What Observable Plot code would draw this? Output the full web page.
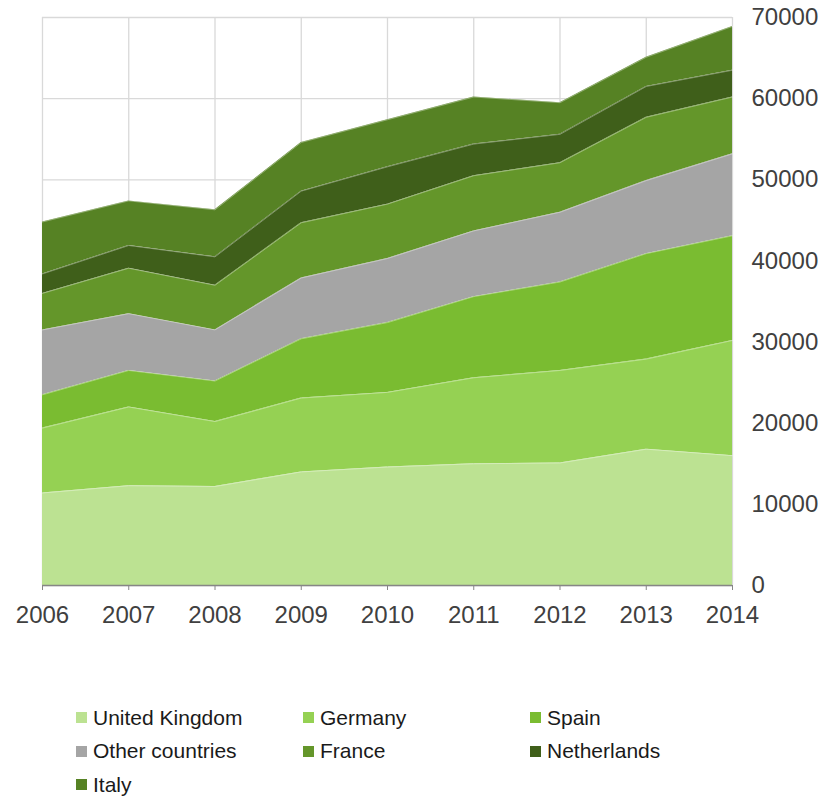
<!DOCTYPE html>
<html>
<head>
<meta charset="utf-8">
<script src="https://cdn.jsdelivr.net/npm/d3@7"></script>
<script src="https://cdn.jsdelivr.net/npm/@observablehq/plot@0.6"></script>
<style>
  body { margin: 0; background: #fff; font-family: "Liberation Sans", Arial, sans-serif; }
  #chart { width: 834px; }
  #legend {
    display: grid;
    grid-template-columns: 227px 227px 227px;
    grid-auto-rows: 33.5px;
    padding-left: 76px;
    margin-top: 61px;
    font-size: 21px;
    color: #1a1a1a;
  }
  .item { display: flex; align-items: center; }
  .sw { width: 11px; height: 11px; margin-right: 6px; flex: none; }
</style>
</head>
<body>
<div id="chart"></div>
<div id="legend"></div>
<script>
const years = [2006, 2007, 2008, 2009, 2010, 2011, 2012, 2013, 2014];
const countries = ["United Kingdom", "Germany", "Spain", "Other countries", "France", "Netherlands", "Italy"];
const colors = ["#bce292", "#95d153", "#7abc31", "#a5a5a5", "#64962a", "#3f5f1a", "#568224"];

const unitedKingdom  = [11400, 12300, 12200, 14000, 14600, 15000, 15100, 16800, 16000];
const germany        = [8000, 9700, 8000, 9100, 9200, 10600, 11400, 11100, 14200];
const spain          = [4100, 4500, 5000, 7300, 8600, 10000, 10900, 13000, 12900];
const otherCountries = [8000, 7000, 6300, 7500, 7900, 8100, 8600, 9000, 10100];
const france         = [4500, 5600, 5500, 6800, 6700, 6800, 6100, 7800, 7000];
const netherlands    = [2400, 2800, 3500, 3900, 4600, 3900, 3500, 3800, 3300];
const italy          = [6400, 5500, 5800, 6000, 5800, 5800, 3900, 3600, 5400];

const yTicks = [0, 10000, 20000, 30000, 40000, 50000, 60000, 70000];

const series = [unitedKingdom, germany, spain, otherCountries, france, netherlands, italy];
const data = [];
countries.forEach((c, i) => {
  years.forEach((yr, j) => data.push({year: yr, country: c, value: series[i][j]}));
});

const plot = Plot.plot({
  width: 834,
  height: 640,
  marginLeft: 42,
  marginRight: 102,
  marginTop: 17,
  marginBottom: 55,
  style: {fontFamily: "'Liberation Sans', Arial, sans-serif", fontSize: "24px", color: "#404040", background: "#fff"},
  x: {domain: [2006, 2014]},
  y: {domain: [0, 70000]},
  color: {domain: countries, range: colors},
  marks: [
    Plot.ruleY(yTicks, {stroke: "#d9d9d9", strokeWidth: 1.3}),
    Plot.ruleX(years, {stroke: "#d9d9d9", strokeWidth: 1.3}),
    Plot.areaY(data, {x: "year", y: "value", z: "country", fill: "country", order: countries}),
    Plot.lineY(data, Plot.stackY2({x: "year", y: "value", z: "country", order: countries, stroke: "white", strokeOpacity: 0.45, strokeWidth: 0.8})),
    Plot.ruleY([0], {stroke: "#868686", strokeWidth: 1.3}),
    Plot.axisX({ticks: years, tickFormat: d => String(d), tickSize: 5, tickPadding: 15, fontSize: 24, stroke: "#868686", fill: "#404040", label: null}),
    Plot.axisY({anchor: "right", ticks: yTicks, tickFormat: d => String(d), tickSize: 0, tickPadding: 19, fontSize: 24, fill: "#404040", label: null})
  ]
});
document.getElementById("chart").appendChild(plot);

const legend = document.getElementById("legend");
countries.forEach((c, i) => {
  const item = document.createElement("div");
  item.className = "item";
  const sw = document.createElement("span");
  sw.className = "sw";
  sw.style.background = colors[i];
  const t = document.createElement("span");
  t.textContent = c;
  item.appendChild(sw);
  item.appendChild(t);
  legend.appendChild(item);
});
</script>
</body>
</html>
